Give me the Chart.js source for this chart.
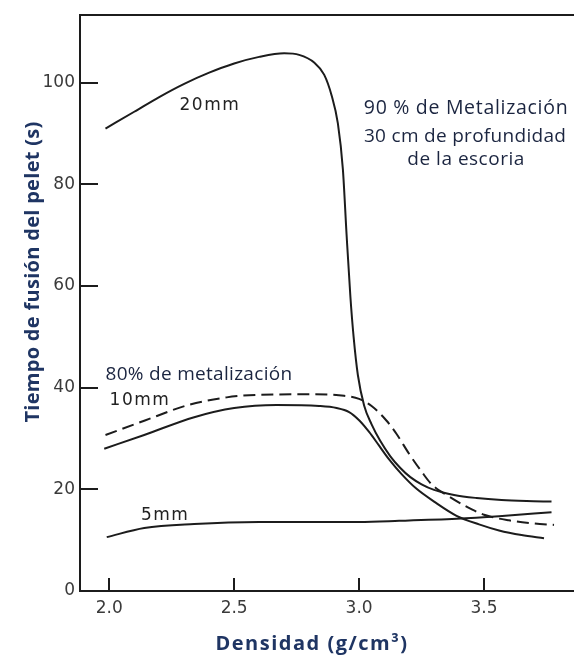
<!DOCTYPE html>
<html>
<head>
<meta charset="utf-8">
<script src="https://cdn.jsdelivr.net/npm/chart.js@4"></script>
<style>
  html, body { margin: 0; padding: 0; background: #ffffff; }
  #wrap { width: 574px; height: 656px; }
</style>
</head>
<body>
<div id="wrap"><canvas id="chart" width="574" height="656"></canvas></div>
<script>
// Axis ticks
const densityTicks = [2.0, 2.5, 3.0, 3.5];
const timeTicks = [0, 20, 40, 60, 80, 100];

// 20 mm pellet, 90 % metallization
const density20mm = [1.985, 2.10, 2.20, 2.30, 2.40, 2.50, 2.60, 2.70, 2.76, 2.82, 2.86, 2.89, 2.915, 2.935, 2.95, 2.965, 2.978, 2.995, 3.02, 3.05, 3.085, 3.125, 3.165, 3.205, 3.25, 3.30, 3.38, 3.47, 3.57, 3.67, 3.77];
const time20mm = [91.0, 94.3, 97.2, 99.8, 102.0, 103.8, 105.1, 105.8, 105.5, 104.0, 101.6, 97.5, 92.0, 83.0, 70.0, 58.0, 50.0, 42.5, 36.5, 32.8, 29.5, 26.5, 24.2, 22.4, 21.0, 19.9, 18.9, 18.3, 17.9, 17.7, 17.6];

// 10 mm pellet, 90 % metallization
const density10mm = [1.98, 2.14, 2.34, 2.50, 2.67, 2.84, 2.91, 2.96, 3.00, 3.04, 3.08, 3.12, 3.17, 3.23, 3.30, 3.39, 3.48, 3.56, 3.65, 3.74];
const time10mm = [28.0, 30.7, 34.2, 36.0, 36.6, 36.4, 36.0, 35.2, 33.6, 31.3, 28.6, 25.9, 23.0, 20.1, 17.6, 14.8, 13.1, 11.9, 11.0, 10.4];

// 10 mm pellet, 80 % metallization
const density10mm80 = [1.985, 2.14, 2.31, 2.47, 2.60, 2.80, 2.94, 3.00, 3.05, 3.11, 3.15, 3.20, 3.25, 3.29, 3.36, 3.43, 3.50, 3.60, 3.70, 3.78];
const time10mm80 = [30.7, 33.5, 36.5, 38.1, 38.6, 38.7, 38.4, 37.8, 36.4, 33.5, 30.9, 27.0, 23.5, 21.0, 18.6, 16.6, 15.0, 13.9, 13.3, 13.0];

// 5 mm pellet, 90 % metallization
const density5mm = [1.99, 2.14, 2.34, 2.60, 3.00, 3.16, 3.39, 3.56, 3.77];
const time5mm = [10.6, 12.4, 13.2, 13.6, 13.6, 13.8, 14.2, 14.7, 15.5];

const toPoints = (xs, ys) => xs.map((v, i) => ({ x: v, y: ys[i] }));

const INK = '#1c1c1c';
const NAVY = '#1f3563';
const NOTE = '#1b2540';

function curve(label, xs, ys, dash) {
  return {
    label,
    data: toPoints(xs, ys),
    showLine: true,
    borderColor: INK,
    borderWidth: 2,
    borderDash: dash || [],
    pointRadius: 0,
    pointHoverRadius: 0,
    fill: false,
    cubicInterpolationMode: 'monotone'
  };
}

// Text written on the plot, placed in data units
const notes = [
  { text: '20mm', x: 2.403, y: 95.6, font: '17px "DejaVu Sans"', spacing: '1.5px', color: '#222', align: 'center' },
  { text: '90 % de Metalización', x: 3.428, y: 95.0, font: '19.5px "Open Sans"', spacing: '0.7px', color: NOTE, align: 'center' },
  { text: '30 cm de profundidad', x: 3.424, y: 89.4, font: '19px "Open Sans"', spacing: '0.3px', color: NOTE, align: 'center' },
  { text: 'de la escoria', x: 3.428, y: 84.8, font: '19px "Open Sans"', spacing: '0.5px', color: NOTE, align: 'center' },
  { text: '80% de metalización', x: 1.985, y: 42.6, font: '19px "Open Sans"', spacing: '0.3px', color: NOTE, align: 'left' },
  { text: '10mm', x: 2.123, y: 37.4, font: '17px "DejaVu Sans"', spacing: '1.5px', color: '#222', align: 'center' },
  { text: '5mm', x: 2.224, y: 14.8, font: '17px "DejaVu Sans"', spacing: '1.5px', color: '#222', align: 'center' }
];

const frameAndText = {
  id: 'frameAndText',
  afterDraw(chart) {
    const { ctx, chartArea: a, scales: { x, y } } = chart;
    ctx.save();
    // inward tick marks
    ctx.strokeStyle = INK;
    ctx.lineWidth = 2;
    ctx.beginPath();
    x.ticks.forEach(t => {
      const px = Math.round(x.getPixelForValue(t.value));
      ctx.moveTo(px, a.bottom);
      ctx.lineTo(px, a.bottom - 13);
    });
    y.ticks.forEach(t => {
      if (t.value === 0) return;
      const py = Math.round(y.getPixelForValue(t.value));
      ctx.moveTo(a.left, py);
      ctx.lineTo(a.left + 18, py);
    });
    ctx.stroke();

    // notes
    ctx.textBaseline = 'middle';
    notes.forEach(n => {
      ctx.font = n.font;
      ctx.letterSpacing = n.spacing;
      ctx.fillStyle = n.color;
      ctx.textAlign = n.align;
      ctx.fillText(n.text, x.getPixelForValue(n.x), y.getPixelForValue(n.y));
    });

    // axis titles
    ctx.fillStyle = NAVY;
    ctx.font = 'bold 20px "Open Sans"';
    ctx.textAlign = 'center';
    ctx.letterSpacing = '1.5px';
    ctx.fillText('Densidad (g/cm³)', 312, 644);
    ctx.letterSpacing = '0.3px';
    ctx.translate(33, 272);
    ctx.rotate(-Math.PI / 2);
    ctx.fillText('Tiempo de fusión del pelet (s)', 0, 0);
    ctx.restore();
  }
};

const xMin = 1.883, xMax = 3.86;
const tickFont = { family: '"DejaVu Sans"', size: 17 };

new Chart(document.getElementById('chart'), {
  type: 'scatter',
  data: {
    datasets: [
      curve('20 mm', density20mm, time20mm),
      curve('10 mm', density10mm, time10mm),
      curve('10 mm, 80 %', density10mm80, time10mm80, [12, 6]),
      curve('5 mm', density5mm, time5mm)
    ]
  },
  options: {
    responsive: false,
    animation: false,
    devicePixelRatio: 1,
    layout: { padding: { top: 14, right: 0, bottom: 0, left: 0 } },
    plugins: { legend: { display: false }, tooltip: { enabled: false } },
    scales: {
      x: {
        type: 'linear',
        position: 'bottom',
        min: xMin,
        max: xMax,
        afterBuildTicks: s => { s.ticks = densityTicks.map(v => ({ value: v })); },
        afterFit: s => { s.height = 65; },
        grid: { drawOnChartArea: false, drawTicks: false },
        border: { display: true, color: INK, width: 2 },
        ticks: {
          autoSkip: false,
          maxRotation: 0,
          padding: 7,
          color: '#3a3a3a',
          font: tickFont,
          callback: v => Number(v).toFixed(1)
        }
      },
      xTop: {
        type: 'linear',
        position: 'top',
        min: xMin,
        max: xMax,
        afterFit: s => { s.height = 0; },
        grid: { drawOnChartArea: false, drawTicks: false },
        border: { display: true, color: INK, width: 2 },
        ticks: { display: false }
      },
      y: {
        type: 'linear',
        min: 0,
        max: 113.3,
        afterBuildTicks: s => { s.ticks = timeTicks.map(v => ({ value: v })); },
        afterFit: s => { s.width = 80; },
        grid: { drawOnChartArea: false, drawTicks: false },
        border: { display: true, color: INK, width: 2 },
        ticks: {
          padding: 5,
          color: '#3a3a3a',
          font: tickFont
        }
      }
    }
  },
  plugins: [frameAndText]
});
</script>
</body>
</html>
